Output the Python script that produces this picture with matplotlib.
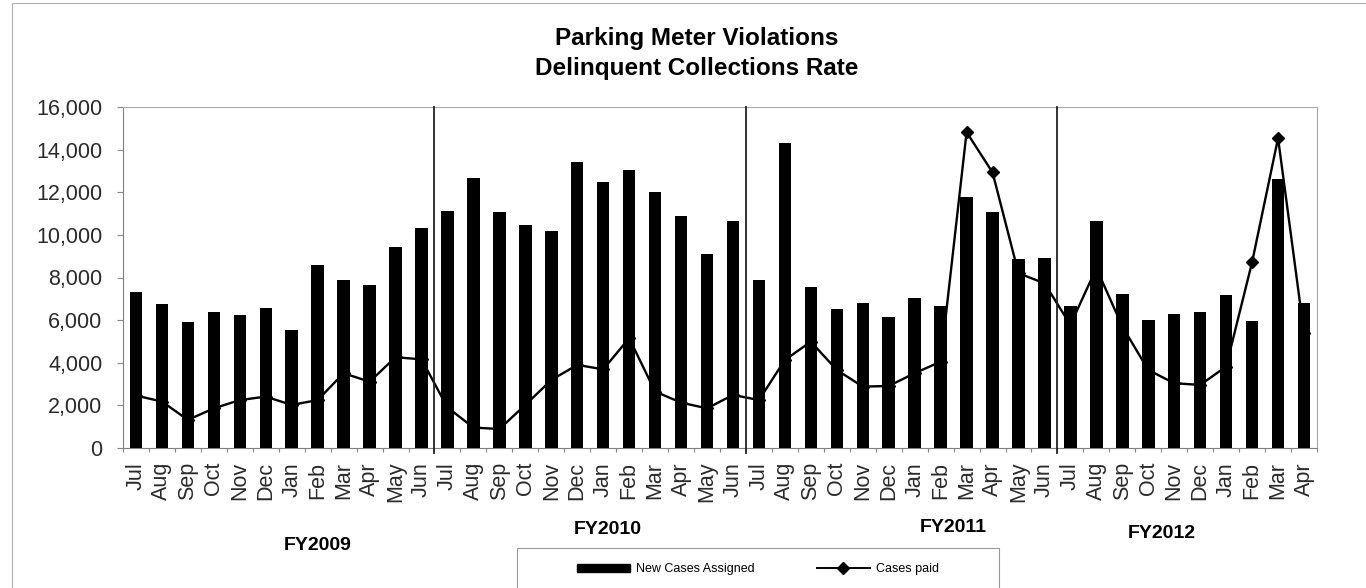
import matplotlib
matplotlib.use("Agg")
import matplotlib.pyplot as plt
from matplotlib.patches import Rectangle, Patch
from matplotlib.lines import Line2D
from matplotlib.ticker import FuncFormatter, FixedLocator
import numpy as np

plt.rcParams['font.family'] = ['Liberation Sans', 'DejaVu Sans']

# month labels for each fiscal year (FY2012 only runs to April)
months = ['Jul', 'Aug', 'Sep', 'Oct', 'Nov', 'Dec',
          'Jan', 'Feb', 'Mar', 'Apr', 'May', 'Jun',
          'Jul', 'Aug', 'Sep', 'Oct', 'Nov', 'Dec',
          'Jan', 'Feb', 'Mar', 'Apr', 'May', 'Jun',
          'Jul', 'Aug', 'Sep', 'Oct', 'Nov', 'Dec',
          'Jan', 'Feb', 'Mar', 'Apr', 'May', 'Jun',
          'Jul', 'Aug', 'Sep', 'Oct', 'Nov', 'Dec',
          'Jan', 'Feb', 'Mar', 'Apr']
fiscal_years = ['FY2009', 'FY2010', 'FY2011', 'FY2012']
months_per_year = [12, 12, 12, 10]

new_cases = [7340, 6750, 5920, 6370, 6230, 6590, 5540, 8580, 7860, 7670, 9420, 10330,
             11130, 12690, 11050, 10450, 10160, 13410, 12500, 13040, 12000, 10880, 9080, 10670,
             7860, 14290, 7560, 6530, 6790, 6140, 7030, 6670, 11800, 11070, 8860, 8900,
             6650, 10630, 7220, 6010, 6280, 6370, 7180, 5960, 12620, 6820]

cases_paid = [2460, 2180, 1320, 1860, 2250, 2410, 2020, 2250, 3510, 3110, 4260, 4160,
              1900, 960, 890, 2020, 3190, 3900, 3690, 5150, 2650, 2130, 1860, 2490,
              2250, 4130, 4990, 3660, 2880, 2910, 3510, 4050, 14820, 12930, 8200, 7730,
              5780, 8440, 5700, 3660, 3040, 2960, 3820, 8720, 14540, 5390]

W, H = 1366, 588
fig = plt.figure(figsize=(W / 100, H / 100), dpi=100)
ax = fig.add_axes([123 / W, 1 - 448 / H, 1194 / W, 341 / H])

x = np.arange(len(months))

# line sits behind the bars, so only markers above the bars show
ax.plot(x, cases_paid, color='black', lw=1.7, marker='D', markersize=6.2, zorder=2)
ax.bar(x, new_cases, width=0.48, color='black', zorder=3)

# fiscal year separators
for b in np.cumsum(months_per_year)[:-1] - 0.5:
    ax.axvline(b, ymin=-0.015, ymax=1, color='#222222', lw=1.3, zorder=4, clip_on=False)

ax.set_xlim(-0.5, len(months) - 0.5)
ax.set_ylim(0, 16000)
ax.set_yticks(np.arange(0, 16001, 2000))
ax.yaxis.set_major_formatter(FuncFormatter(lambda v, p: f'{int(v):,}'))
ax.tick_params(axis='y', direction='out', length=4.3, width=0.8, color='#888888',
               pad=10.5, labelsize=15.5, labelcolor='#2a2a2a')

ax.set_xticks(x)
ax.set_xticklabels(months, rotation=90)
ax.tick_params(axis='x', which='major', length=0, pad=10, labelsize=15.5, labelcolor='#2a2a2a')
ax.xaxis.set_minor_locator(FixedLocator(np.arange(-0.5, len(months), 1)))
ax.tick_params(axis='x', which='minor', direction='out', length=3, width=0.8, color='#888888')

for side in ['left', 'bottom']:
    ax.spines[side].set_color('#808080')
    ax.spines[side].set_linewidth(0.8)
for side in ['top', 'right']:
    ax.spines[side].set_color('#aaaaaa')
    ax.spines[side].set_linewidth(0.8)

# title
fig.text(697 / W, 1 - 45 / H, 'Parking Meter Violations', ha='center', va='baseline',
         fontsize=17.5, fontweight='bold')
fig.text(697 / W, 1 - 75 / H, 'Delinquent Collections Rate', ha='center', va='baseline',
         fontsize=17.5, fontweight='bold')

# fiscal year labels under the months
fy_pos = [(318, 545), (608, 530), (953, 527), (1162, 533)]
for name, (px, py) in zip(fiscal_years, fy_pos):
    fig.text(px / W, 1 - py / H, name, ha='center', va='center', fontsize=14, fontweight='bold')

# outer chart frame
fig.add_artist(Rectangle((12 / W, -0.1), 1.2, 1 - 3 / H + 0.1, transform=fig.transFigure,
                         fill=False, edgecolor='#b0b0b0', lw=0.8))

# legend box (runs off the bottom of the picture)
fig.add_artist(Rectangle((517 / W, -0.1), 482 / W, (588 - 548) / H + 0.1,
                         transform=fig.transFigure, fill=False, edgecolor='#999999', lw=0.8))
handles = [Patch(facecolor='black', edgecolor='black'),
           Line2D([], [], color='black', lw=1.4, marker='D', markersize=6)]
fig.legend(handles, ['New Cases Assigned', 'Cases paid'], loc='center',
           bbox_to_anchor=(758 / W, 1 - 569 / H), ncol=2, frameon=False, fontsize=9,
           handlelength=4.2, handleheight=0.6, handletextpad=0.5, columnspacing=5)

fig.savefig('out.png', dpi=100)
